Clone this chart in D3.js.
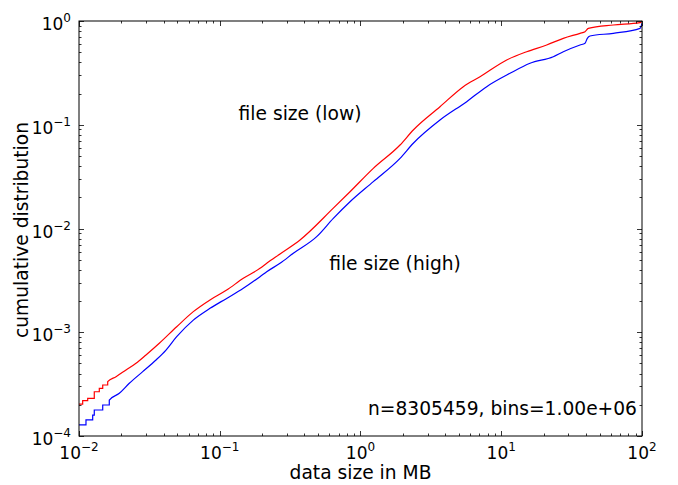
<!DOCTYPE html>
<html><head><meta charset="utf-8">
<script src="https://cdn.jsdelivr.net/npm/d3@7"></script>
<style>
html,body{margin:0;padding:0;background:#fff;}
text{font-family:"DejaVu Sans",sans-serif;fill:#000;}
</style></head>
<body><svg id="c" width="678" height="485"></svg>
<script>
// ---- data ----
const lowX  = [0.0100,0.01062,0.01153,0.01284,0.01394,0.01474,0.01599,0.01832,0.02158,0.02541,0.02992,0.03720,0.04944,0.06488,0.08526,0.1120,0.1470,0.1932,0.2156,0.2680,0.3717,0.6410,0.8423,1.233,1.909,2.372,3.671,5.377,7.063,10.93,15.16,21.03,27.60,36.27,39.36,41.55,62.54,96.78,100];
const lowY  = [2.03e-4,2.19e-4,2.31e-4,2.67e-4,2.88e-4,3.10e-4,3.34e-4,3.73e-4,4.33e-4,5.02e-4,6.04e-4,7.83e-4,1.13e-3,1.58e-3,2.05e-3,2.55e-3,3.31e-3,4.13e-3,4.62e-3,5.68e-3,7.75e-3,1.57e-2,2.26e-2,3.80e-2,6.38e-2,8.90e-2,0.149,0.233,0.290,0.421,0.506,0.587,0.681,0.761,0.789,0.850,0.915,0.963,1.0];
const highX = [0.0100,0.01121,0.01251,0.01284,0.01474,0.01641,0.01934,0.02277,0.02835,0.03524,0.04151,0.04944,0.06488,0.08526,0.1120,0.1470,0.1932,0.2156,0.2680,0.3332,0.4884,0.6410,0.8423,1.233,1.909,2.372,3.671,5.683,7.883,11.54,16.01,23.43,27.60,36.27,39.36,40.87,42.70,62.54,96.78,100];
const highY = [1.28e-4,1.43e-4,1.59e-4,1.78e-4,1.99e-4,2.22e-4,2.58e-4,3.22e-4,4.17e-4,5.40e-4,6.74e-4,9.06e-4,1.31e-3,1.70e-3,2.12e-3,2.65e-3,3.43e-3,3.83e-3,4.62e-3,5.77e-3,8.34e-3,1.25e-2,1.81e-2,2.83e-2,4.75e-2,6.63e-2,0.111,0.167,0.233,0.313,0.391,0.453,0.506,0.587,0.610,0.681,0.717,0.761,0.850,0.950];
const xDomain = [1e-2, 1e2];
const yDomain = [1e-4, 1];
const xTickExps = [-2,-1,0,1,2];
const yTickExps = [-4,-3,-2,-1,0];
const labelLow = "file size (low)";
const labelHigh = "file size (high)";
const note = "n=8305459, bins=1.00e+06";
const xTitle = "data size in MB";
const yTitle = "cumulative distribution";
const stepUntil = 0.0165;

// ---- layout ----
const L = 79, R = 642, T = 21, B = 436;
const FS = 18.67;
const svg = d3.select("#c");
const x = d3.scaleLog().domain(xDomain).range([L, R]);
const y = d3.scaleLog().domain(yDomain).range([B, T]);

function series(xs, ys){
  const pts = [];
  for (let i = 0; i < xs.length; i++){
    pts.push([xs[i], ys[i]]);
    if (i + 1 < xs.length && xs[i+1] <= stepUntil) pts.push([xs[i+1], ys[i]]);
  }
  return pts;
}
const line = d3.line().x(d => x(d[0])).y(d => y(d[1])).curve(d3.curveMonotoneX);

svg.append("clipPath").attr("id","pc").append("rect")
  .attr("x", L).attr("y", T-1).attr("width", R-L).attr("height", B-T+1);

const g = svg.append("g").attr("clip-path","url(#pc)");
g.append("path").attr("d", line(series(highX, highY)))
  .attr("fill","none").attr("stroke","#0000ff").attr("stroke-width",1.2);
g.append("path").attr("d", line(series(lowX, lowY)))
  .attr("fill","none").attr("stroke","#ff0000").attr("stroke-width",1.2);

// ---- ticks (inward on all sides) ----
const major = 5, minor = 2.5;
const tg = svg.append("g").attr("stroke","#000").attr("stroke-width",0.8);
function minorsOf(dom){
  const out = [];
  const e0 = Math.round(Math.log10(dom[0])), e1 = Math.round(Math.log10(dom[1]));
  for (let e = e0; e < e1; e++) for (let k = 2; k <= 9; k++) out.push(k * Math.pow(10, e));
  return out;
}
xTickExps.forEach(e => {
  const px = Math.round(x(Math.pow(10,e))) + 0.5;
  tg.append("line").attr("x1",px).attr("x2",px).attr("y1",B).attr("y2",B-major);
  tg.append("line").attr("x1",px).attr("x2",px).attr("y1",T).attr("y2",T+major);
});
minorsOf(xDomain).forEach(v => {
  const px = Math.round(x(v)) + 0.5;
  tg.append("line").attr("x1",px).attr("x2",px).attr("y1",B).attr("y2",B-minor);
  tg.append("line").attr("x1",px).attr("x2",px).attr("y1",T).attr("y2",T+minor);
});
yTickExps.forEach(e => {
  const py = Math.round(y(Math.pow(10,e))) + 0.5;
  tg.append("line").attr("x1",L).attr("x2",L+major).attr("y1",py).attr("y2",py);
  tg.append("line").attr("x1",R).attr("x2",R-major).attr("y1",py).attr("y2",py);
});
minorsOf(yDomain).forEach(v => {
  const py = Math.round(y(v)) + 0.5;
  tg.append("line").attr("x1",L).attr("x2",L+minor).attr("y1",py).attr("y2",py);
  tg.append("line").attr("x1",R).attr("x2",R-minor).attr("y1",py).attr("y2",py);
});

// frame
svg.append("rect").attr("x",L).attr("y",T).attr("width",R-L).attr("height",B-T)
  .attr("fill","none").attr("stroke","#000").attr("stroke-width",1);

// ---- tick labels ----
function powLabel(sel, e){
  sel.append("tspan").text("10");
  sel.append("tspan").attr("dy",-8).attr("font-size",12).text(e < 0 ? "\u2212" + (-e) : String(e));
}
xTickExps.forEach(e => {
  const t = svg.append("text").attr("x", x(Math.pow(10,e))).attr("y", 459)
    .attr("font-size",17).attr("text-anchor","middle");
  powLabel(t, e);
});
yTickExps.forEach(e => {
  const t = svg.append("text").attr("x", 71).attr("y", y(Math.pow(10,e)) + 9)
    .attr("font-size",17).attr("text-anchor","end");
  powLabel(t, e);
});

// ---- titles & annotations ----
svg.append("text").attr("x",(L+R)/2).attr("y",479).attr("text-anchor","middle")
  .attr("font-size",FS).text(xTitle);
svg.append("text").attr("transform",`translate(28,230) rotate(-90)`)
  .attr("text-anchor","middle").attr("font-size",FS).text(yTitle);
svg.append("text").attr("x",300).attr("y",120).attr("text-anchor","middle")
  .attr("font-size",FS).text(labelLow);
svg.append("text").attr("x",395).attr("y",270).attr("text-anchor","middle")
  .attr("font-size",FS).text(labelHigh);
svg.append("text").attr("x",R-5).attr("y",415).attr("text-anchor","end")
  .attr("font-size",FS).text(note);
</script></body></html>
